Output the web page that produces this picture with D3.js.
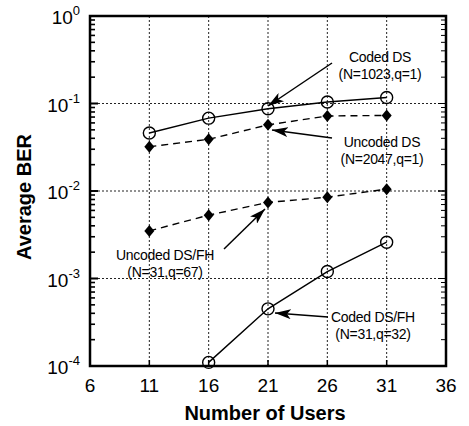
<!DOCTYPE html>
<html>
<head>
<meta charset="utf-8">
<script src="https://cdn.jsdelivr.net/npm/d3@7/dist/d3.min.js"></script>
<style>
  body { margin: 0; background: #fff; }
  svg { display: block; font-family: Arial, "Liberation Sans", Helvetica, sans-serif; }
</style>
</head>
<body>
<svg id="chart" width="469" height="426"></svg>
<script>
// data
var users = [11, 16, 21, 26, 31];
var codedDS = [0.046, 0.068, 0.087, 0.104, 0.117];
var uncodedDS = [0.032, 0.039, 0.057, 0.072, 0.073];
var uncodedDSFH = [0.0035, 0.0053, 0.0074, 0.0085, 0.0105];
var codedDSFHUsers = [16, 21, 26, 31];
var codedDSFH = [0.00011, 0.00045, 0.0012, 0.0026];

var xTicks = [6, 11, 16, 21, 26, 31, 36];
var yTicks = [0, -1, -2, -3, -4]; // exponents

var notes = [
  {lines: ["Coded DS", "(N=1023,q=1)"], tx: 380, ty: 62, from: [332, 63], to: [268, 106]},
  {lines: ["Uncoded DS", "(N=2047,q=1)"], tx: 382, ty: 147, from: [332, 138], to: [272, 130]},
  {lines: ["Uncoded DS/FH", "(N=31,q=67)"], tx: 165, ty: 260, from: [224, 249], to: [265, 209]},
  {lines: ["Coded DS/FH", "(N=31,q=32)"], tx: 373, ty: 322, from: [328, 317], to: [275, 313]}
];

var svg = d3.select("#chart");
var margin = {left: 90, top: 16, right: 23, bottom: 60};
var w = 469 - margin.left - margin.right;
var h = 426 - margin.top - margin.bottom;

var x = d3.scaleLinear().domain([6, 36]).range([0, w]);
var y = d3.scaleLog().domain([1e-4, 1]).range([h, 0]);

var defs = svg.append("defs");
defs.append("marker")
  .attr("id", "arrow")
  .attr("viewBox", "0 0 16 10")
  .attr("refX", 16).attr("refY", 5)
  .attr("markerWidth", 16).attr("markerHeight", 10)
  .attr("markerUnits", "userSpaceOnUse")
  .attr("orient", "auto")
  .append("path")
  .attr("d", "M0,0 L16,5 L0,10 L4,5 Z")
  .attr("fill", "#000");

var g = svg.append("g").attr("transform", "translate(" + margin.left + "," + margin.top + ")");

// grid
g.selectAll(".vgrid").data(xTicks.slice(1, -1)).enter().append("line")
  .attr("x1", function (d) { return x(d); }).attr("x2", function (d) { return x(d); })
  .attr("y1", 0).attr("y2", h)
  .attr("stroke", "#222").attr("stroke-width", 1)
  .attr("stroke-dasharray", "2,2");
g.selectAll(".hgrid").data(yTicks.slice(1, -1)).enter().append("line")
  .attr("x1", 0).attr("x2", w)
  .attr("y1", function (d) { return y(Math.pow(10, d)); })
  .attr("y2", function (d) { return y(Math.pow(10, d)); })
  .attr("stroke", "#222").attr("stroke-width", 1)
  .attr("stroke-dasharray", "2,2");

// minor log ticks, left and right
var minor = [];
for (var e = -4; e < 0; e++) {
  for (var m = 1; m <= 10; m++) minor.push(m * Math.pow(10, e));
}
[0, w].forEach(function (xx) {
  var dir = xx === 0 ? 1 : -1;
  g.selectAll(null).data(minor).enter().append("line")
    .attr("x1", xx)
    .attr("x2", function (d) {
      var major = Math.abs(Math.log10(d) - Math.round(Math.log10(d))) < 1e-9;
      return xx + dir * (major ? 8 : 5);
    })
    .attr("y1", function (d) { return y(d); })
    .attr("y2", function (d) { return y(d); })
    .attr("stroke", "#000").attr("stroke-width", xx === 0 ? 1.6 : 1);
});
// x ticks
g.selectAll(null).data(xTicks).enter().append("line")
  .attr("x1", function (d) { return x(d); }).attr("x2", function (d) { return x(d); })
  .attr("y1", h).attr("y2", h - 6)
  .attr("stroke", "#000").attr("stroke-width", 1.5);

// frame
g.append("rect").attr("width", w).attr("height", h)
  .attr("fill", "none").attr("stroke", "#000").attr("stroke-width", 2.5);

// series
var line = d3.line()
  .x(function (d) { return x(d[0]); })
  .y(function (d) { return y(d[1]); });

function drawSeries(xs, ys, dashed, marker) {
  var pts = d3.zip(xs, ys);
  g.append("path").datum(pts)
    .attr("d", line)
    .attr("fill", "none").attr("stroke", "#000").attr("stroke-width", 1.4)
    .attr("stroke-dasharray", dashed ? "7,5" : null);
  if (marker === "circle") {
    g.selectAll(null).data(pts).enter().append("circle")
      .attr("cx", function (d) { return x(d[0]); })
      .attr("cy", function (d) { return y(d[1]); })
      .attr("r", 6)
      .attr("fill", "none").attr("stroke", "#000").attr("stroke-width", 1.4);
  } else {
    g.selectAll(null).data(pts).enter().append("path")
      .attr("transform", function (d) { return "translate(" + x(d[0]) + "," + y(d[1]) + ")"; })
      .attr("d", "M0,-6 L5,0 L0,6 L-5,0 Z")
      .attr("fill", "#000");
  }
}
drawSeries(users, codedDS, false, "circle");
drawSeries(users, uncodedDS, true, "diamond");
drawSeries(users, uncodedDSFH, true, "diamond");
drawSeries(codedDSFHUsers, codedDSFH, false, "circle");

// tick labels
g.selectAll(null).data(xTicks).enter().append("text")
  .attr("x", function (d) { return x(d); })
  .attr("y", h + 26)
  .attr("text-anchor", "middle")
  .attr("font-size", 19)
  .text(function (d) { return d; });

var yl = g.selectAll(null).data(yTicks).enter().append("text")
  .attr("x", -10)
  .attr("y", function (d) { return y(Math.pow(10, d)) + 8; })
  .attr("text-anchor", "end")
  .attr("font-size", 19);
yl.append("tspan").text("10");
yl.append("tspan").attr("font-size", 13).attr("dy", -9)
  .text(function (d) { return d === 0 ? "0" : "-" + Math.abs(d); });

// axis titles
svg.append("text")
  .attr("x", margin.left + w / 2 - 3).attr("y", 420)
  .attr("text-anchor", "middle")
  .attr("font-size", 20).attr("font-weight", "bold")
  .text("Number of Users");
svg.append("text")
  .attr("transform", "translate(31,197) rotate(-90)")
  .attr("text-anchor", "middle")
  .attr("font-size", 20).attr("font-weight", "bold")
  .text("Average BER");

// annotations
notes.forEach(function (n) {
  svg.append("line")
    .attr("x1", n.from[0]).attr("y1", n.from[1])
    .attr("x2", n.to[0]).attr("y2", n.to[1])
    .attr("stroke", "#000").attr("stroke-width", 1.5)
    .attr("marker-end", "url(#arrow)");
  n.lines.forEach(function (t, i) {
    svg.append("text")
      .attr("x", n.tx).attr("y", n.ty + i * 17)
      .attr("text-anchor", "middle")
      .attr("font-size", 14)
      .attr("letter-spacing", -0.3)
      .text(t);
  });
});
</script>
</body>
</html>
